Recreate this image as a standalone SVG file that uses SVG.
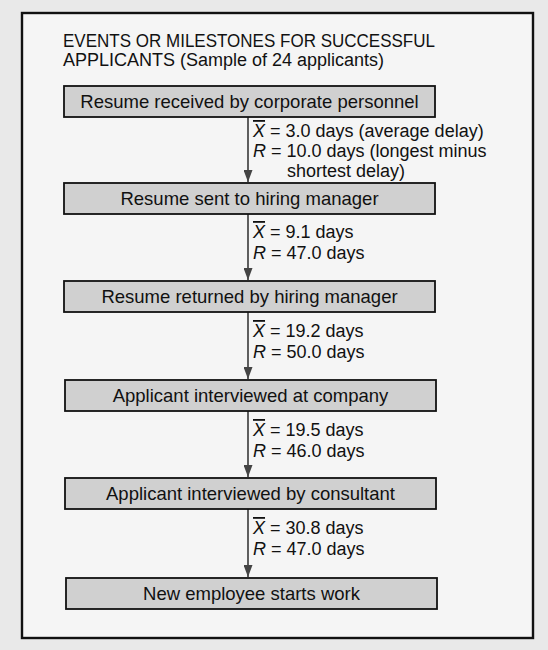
<svg xmlns="http://www.w3.org/2000/svg" width="548" height="650" viewBox="0 0 548 650">
<defs>
<style>
.page{fill:#e9e9e9}
.frame{fill:#f5f5f5;stroke:#111;stroke-width:2.4}
.box{fill:#d0d0d0;stroke:#111;stroke-width:1.8}
.t{font-family:"Liberation Sans",Arial,sans-serif;fill:#111}
.title{font-size:18px}
.bt{font-size:18.5px;text-anchor:middle}
.lb{font-size:18px}
.conn{stroke:#444;stroke-width:1.7;fill:none}
.v{font-style:italic}
</style>
<marker id="ah" viewBox="0 0 12 9" refX="12" refY="4.5" markerWidth="12" markerHeight="9" orient="auto" markerUnits="userSpaceOnUse">
<path d="M0,0 L12,4.5 L0,9 z" fill="#444"/>
</marker>
</defs>
<rect class="page" x="0" y="0" width="548" height="650"/>
<rect class="frame" x="22" y="13" width="511" height="625"/>
<text class="t title" x="63" y="47" textLength="372" lengthAdjust="spacingAndGlyphs">EVENTS OR MILESTONES FOR SUCCESSFUL</text>
<text class="t title" x="63" y="66" textLength="321" lengthAdjust="spacingAndGlyphs">APPLICANTS (Sample of 24 applicants)</text>
<g id="connectors">
<line class="conn" x1="248" y1="117" x2="248" y2="182" marker-end="url(#ah)"/>
<line class="conn" x1="248" y1="214" x2="248" y2="280" marker-end="url(#ah)"/>
<line class="conn" x1="248" y1="312" x2="248" y2="379" marker-end="url(#ah)"/>
<line class="conn" x1="248" y1="411" x2="248" y2="477" marker-end="url(#ah)"/>
<line class="conn" x1="248" y1="509" x2="248" y2="577" marker-end="url(#ah)"/>
</g>
<g id="labels">
<text class="t lb" x="253" y="137"><tspan class="v" text-decoration="overline">X</tspan> = 3.0 days (average delay)</text>
<text class="t lb" x="253" y="157"><tspan class="v">R</tspan> = 10.0 days (longest minus</text>
<text class="t lb" x="287" y="177">shortest delay)</text>
<text class="t lb" x="253" y="238"><tspan class="v" text-decoration="overline">X</tspan> = 9.1 days</text>
<text class="t lb" x="253" y="259"><tspan class="v">R</tspan> = 47.0 days</text>
<text class="t lb" x="253" y="337"><tspan class="v" text-decoration="overline">X</tspan> = 19.2 days</text>
<text class="t lb" x="253" y="358"><tspan class="v">R</tspan> = 50.0 days</text>
<text class="t lb" x="253" y="436"><tspan class="v" text-decoration="overline">X</tspan> = 19.5 days</text>
<text class="t lb" x="253" y="457"><tspan class="v">R</tspan> = 46.0 days</text>
<text class="t lb" x="253" y="534"><tspan class="v" text-decoration="overline">X</tspan> = 30.8 days</text>
<text class="t lb" x="253" y="555"><tspan class="v">R</tspan> = 47.0 days</text>
</g>
<g id="n1"><rect class="box" x="64" y="86" width="371" height="31"/><text class="t bt" x="249.5" y="108">Resume received by corporate personnel</text></g>
<g id="n2"><rect class="box" x="64" y="183" width="371" height="31"/><text class="t bt" x="249.5" y="205">Resume sent to hiring manager</text></g>
<g id="n3"><rect class="box" x="64" y="281" width="371" height="31"/><text class="t bt" x="249.5" y="303">Resume returned by hiring manager</text></g>
<g id="n4"><rect class="box" x="65" y="380" width="371" height="31"/><text class="t bt" x="250.5" y="402">Applicant interviewed at company</text></g>
<g id="n5"><rect class="box" x="65" y="478" width="371" height="31"/><text class="t bt" x="250.5" y="500">Applicant interviewed by consultant</text></g>
<g id="n6"><rect class="box" x="66" y="578" width="371" height="31"/><text class="t bt" x="251.5" y="600">New employee starts work</text></g>
</svg>
